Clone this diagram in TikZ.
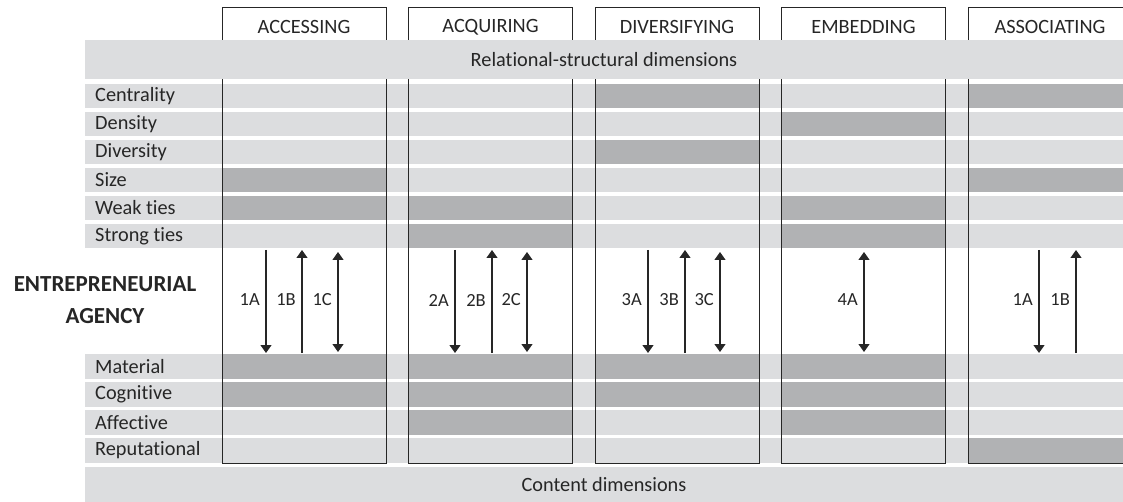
\documentclass[tikz,border=0pt]{standalone}
\usepackage{fontspec}
\setmainfont{Carlito}[Ligatures=CommonOff]
\usetikzlibrary{arrows.meta}
\definecolor{lightband}{HTML}{DCDDDF}
\definecolor{darkcell}{HTML}{B1B2B4}
\definecolor{ink}{HTML}{262626}
\begin{document}
\begin{tikzpicture}[x=1pt,y=-1pt,
  band/.style={fill=lightband,draw=none},
  cell/.style={fill=darkcell,draw=none},
  colbox/.style={draw=ink,line width=1pt},
  rowlabel/.style={anchor=west,inner sep=0pt,text=ink,font=\fontsize{20.3}{22}\selectfont},
  headlabel/.style={inner sep=0pt,text=ink,font=\fontsize{20.3}{22}\selectfont},
  arrlabel/.style={anchor=east,inner sep=0pt,text=ink,font=\fontsize{18.5}{20}\selectfont},
  conn/.style={draw=ink,line width=1.2pt},
  tip/.style={-{Triangle[width=11pt,length=8pt]}},
  dtip/.style={{Triangle[width=11pt,length=8pt]}-{Triangle[width=11pt,length=8pt]}}
]
\useasboundingbox (0,0) rectangle (1123,502);
\clip (0,0) rectangle (1123,502);

% ---- row bands
\foreach \n/\t/\h/\lab in {cen/84/24/Centrality,den/112/24/Density,div/140/24/Diversity,siz/168/24/Size,wea/196/24/Weak ties,str/224/24/Strong ties,mat/354/25/Material,cog/382/25/Cognitive,aff/410/25/Affective,rep/438/25/Reputational}{
  \fill[band] (85,\t) rectangle (1123,\t+\h);
  \node[rowlabel] (lab-\n) at (95,\t+\h/2) {\lab};
}

% ---- dark cells (row top / height / column left)
\foreach \t/\h/\x in {84/24/595,84/24/968,
                      112/24/781.5,
                      140/24/595,
                      168/24/222,168/24/968,
                      196/24/222,196/24/408.5,196/24/781.5,
                      224/24/408.5,224/24/781.5,
                      354/25/222,354/25/408.5,354/25/595,354/25/781.5,
                      382/25/222,382/25/408.5,382/25/595,382/25/781.5,
                      410/25/408.5,410/25/781.5,
                      438/25/968}{
  \fill[cell] (\x,\t) rectangle (\x+164,\t+\h);
}

% ---- column boxes and headers
\foreach \n/\x/\lab in {c1/222/ACCESSING,c2/408.5/ACQUIRING,c3/595/DIVERSIFYING,c4/781.5/EMBEDDING,c5/968/ASSOCIATING}{
  \draw[colbox] (\x,8) rectangle (\x+164,463);
  \node[headlabel] (head-\n) at (\x+82,27) {\lab};
}

% ---- dimension bands
\fill[band] (85,40) rectangle (1123,79);
\node[headlabel] (relational) at (604,60) {Relational-structural dimensions};
\fill[band] (85,467) rectangle (1123,502);
\node[headlabel] (content) at (604,485) {Content dimensions};

% ---- agency label
\node[inner sep=0pt,text=ink,align=center,font=\fontsize{23}{32}\bfseries\selectfont] (agency) at (105,300) {ENTREPRENEURIAL\\AGENCY};

% ---- arrow end points and labels
\foreach \n/\x/\lab in {a1/266/1A,b1/302/1B,c1/338/1C,
                        a2/455/2A,b2/492/2B,c2/527/2C,
                        a3/648/3A,b3/685/3B,c3/720/3C,
                        a4/864/4A,
                        a5/1039/1A,b5/1076/1B}{
  \coordinate (\n-top) at (\x,250);
  \coordinate (\n-bot) at (\x,353);
  \node[arrlabel] (\n-lab) at (\x-6,300) {\lab};
}
\foreach \n in {a1,a2,a3,a5}{\draw[conn,tip] (\n-top) -- (\n-bot);}
\foreach \n in {b1,b2,b3,b5}{\draw[conn,tip] (\n-bot) -- (\n-top);}
\foreach \n in {c1,c2,c3,a4}{\draw[conn,dtip] ([yshift=-2pt]\n-top) -- ([yshift=1pt]\n-bot);}
\end{tikzpicture}
\end{document}
